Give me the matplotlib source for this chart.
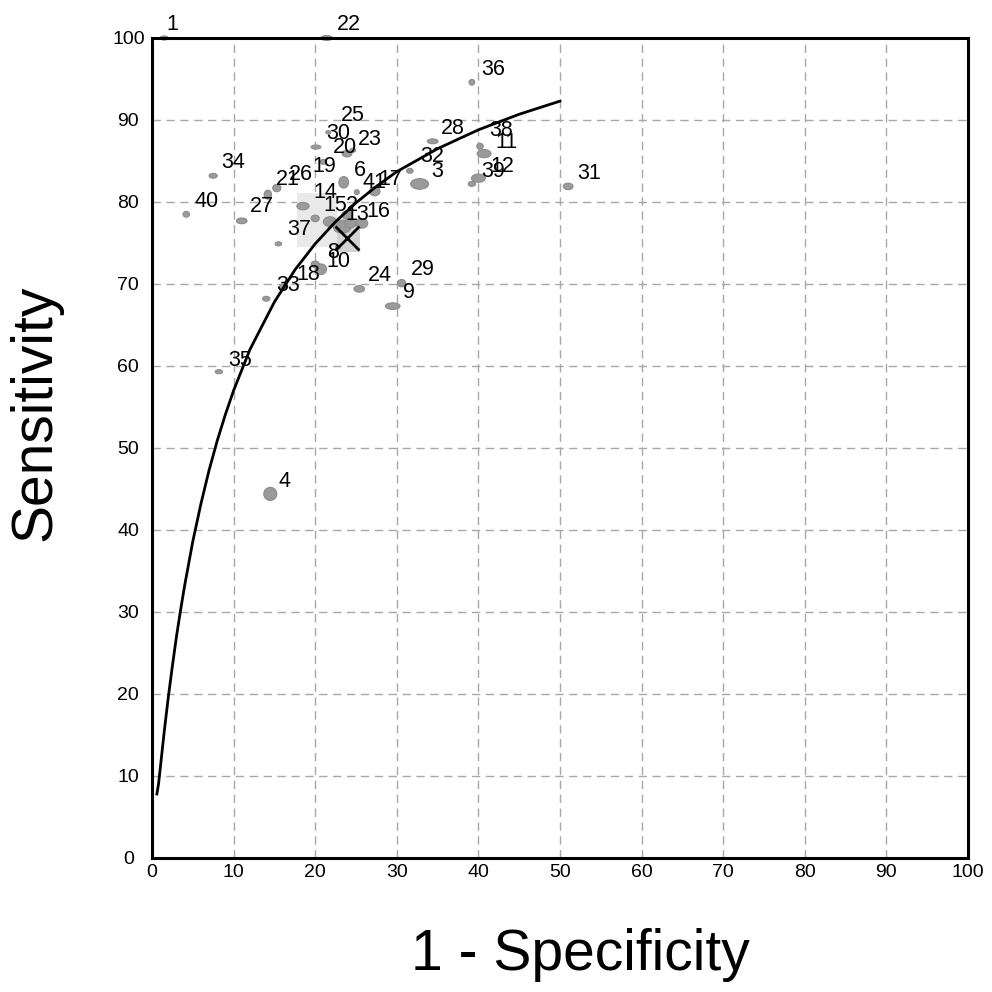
import matplotlib
matplotlib.use("Agg")
import matplotlib.pyplot as plt
from matplotlib.patches import Ellipse, Rectangle

# study points: id, 1-specificity (%), sensitivity (%), ellipse width / height (data units)
study_ids = [1, 22, 36, 28, 38, 11, 32, 3, 12, 39, 31, 25, 30, 23, 20, 6, 41, 17,
             19, 26, 21, 34, 40, 27, 14, 37, 15, 2, 5, 13, 16, 7, 18, 8, 10,
             33, 42, 24, 29, 9, 35, 4]
fpr = [1.5, 21.4, 39.2, 34.4, 40.2, 40.7, 31.6, 32.8, 40.0, 39.2, 51.0, 21.6, 20.1, 24.6, 23.9, 23.5, 27.3, 25.1,
       21.0, 15.3, 14.2, 7.5, 4.2, 11.0, 18.5, 15.5, 21.8, 23.9, 23.3, 24.3, 25.7, 20.0, 20.7, 20.0, 22.8,
       16.0, 14.0, 25.4, 30.6, 29.5, 8.2, 14.5]
sens = [100.0, 100.0, 94.6, 87.4, 86.8, 85.9, 83.8, 82.2, 82.9, 82.2, 81.9, 88.5, 86.7, 86.3, 85.9, 82.4, 81.3, 81.2,
        84.9, 81.7, 80.9, 83.2, 78.5, 77.7, 79.5, 74.9, 77.6, 78.4, 77.0, 77.4, 77.4, 78.0, 71.8, 72.4, 74.5,
        69.6, 68.2, 69.4, 70.1, 67.3, 59.3, 44.4]
ell_w = [1.0, 1.4, 0.7, 1.3, 0.8, 1.7, 0.8, 2.2, 1.7, 0.9, 1.2, 0.6, 1.2, 0.7, 1.2, 1.2, 1.3, 0.6,
         0.8, 1.0, 0.9, 1.0, 0.8, 1.3, 1.5, 0.8, 1.6, 1.3, 2.2, 1.4, 1.5, 1.0, 1.4, 1.0, 0.6,
         0.8, 0.9, 1.3, 1.0, 1.8, 0.9, 1.6]
ell_h = [0.5, 0.6, 0.7, 0.6, 0.7, 1.0, 0.6, 1.3, 1.0, 0.6, 0.8, 0.4, 0.5, 0.5, 0.8, 1.4, 1.1, 0.6,
         0.6, 0.9, 1.1, 0.6, 0.7, 0.7, 0.9, 0.5, 1.2, 1.0, 1.6, 1.1, 1.2, 0.8, 1.3, 0.8, 0.5,
         0.6, 0.6, 0.8, 0.9, 0.8, 0.5, 1.6]

# SROC curve
curve_x = [0.6, 0.8, 1, 1.5, 2, 2.5, 3, 3.5, 4, 5, 6, 7, 8, 9, 10, 12, 15, 17.5, 20,
           22.5, 25, 27.5, 30, 35, 40, 45, 50]
curve_y = [7.8, 9.0, 10.8, 15.4, 19.6, 23.4, 27.0, 30.2, 33.2, 38.6, 43.2, 47.3, 50.9, 54.1, 57.0,
           62.0, 67.8, 71.7, 74.9, 77.6, 79.9, 81.9, 83.7, 86.5, 88.8, 90.7, 92.3]

# summary point and its confidence boxes
summary_fpr, summary_sens = 23.9, 75.6
box_light = (17.8, 74.5, 22.7, 81.1)   # x0, y0, x1, y1
box_dark = (22.7, 73.9, 25.5, 77.6)

ticks = list(range(0, 101, 10))

# where each study number is written (data coords, text centre)
label_xy = {
    1: (2.5, 101.6), 22: (24.1, 101.7), 36: (41.8, 96.2), 28: (36.9, 89.0), 38: (42.8, 88.7),
    11: (43.4, 87.2), 32: (34.3, 85.5), 3: (34.9, 83.7), 12: (42.9, 84.3), 39: (41.8, 83.7),
    31: (53.6, 83.5), 25: (24.6, 90.5), 30: (22.8, 88.4), 23: (26.7, 87.6), 20: (23.7, 86.7),
    6: (25.5, 83.9), 41: (27.3, 82.4), 17: (29.2, 82.7), 19: (21.1, 84.3), 26: (18.3, 83.4),
    21: (16.7, 82.7), 34: (10.0, 84.8), 40: (6.7, 80.1), 27: (13.5, 79.4), 14: (21.2, 81.1),
    37: (18.0, 76.6), 15: (22.4, 79.6), 2: (24.5, 79.6), 13: (25.2, 78.5), 16: (27.7, 78.9),
    8: (22.2, 73.9), 10: (22.8, 72.7), 18: (19.2, 71.2), 33: (16.7, 69.8), 24: (27.9, 71.0),
    29: (33.2, 71.8), 9: (31.5, 69.0), 35: (10.8, 60.7), 4: (16.3, 45.9),
}

plt.rcParams["font.family"] = ["Liberation Sans", "DejaVu Sans"]

fig = plt.figure(figsize=(9.92, 9.92), dpi=100)
ax = fig.add_axes([0.1532, 0.1351, 0.8226, 0.8266])
ax.set_xlim(0, 100)
ax.set_ylim(0, 100)

ax.set_xticks(ticks)
ax.set_yticks(ticks)
ax.tick_params(length=0, labelsize=14)
ax.tick_params(axis="x", pad=4)
ax.tick_params(axis="y", pad=17)
for lab in ax.get_yticklabels():
    lab.set_horizontalalignment("center")
ax.grid(True, color="#a8a8a8", linestyle=(0, (6, 4)), linewidth=1.0)
ax.set_axisbelow(True)
for s in ax.spines.values():
    s.set_linewidth(2.2)

ax.add_patch(Rectangle((box_light[0], box_light[1]), box_light[2] - box_light[0],
                       box_light[3] - box_light[1], facecolor="#e9e9e9", edgecolor="none", zorder=1.5))
ax.add_patch(Rectangle((box_dark[0], box_dark[1]), box_dark[2] - box_dark[0],
                       box_dark[3] - box_dark[1], facecolor="#d2d2d2", edgecolor="none", zorder=1.6))

for i, sid in enumerate(study_ids):
    ax.add_patch(Ellipse((fpr[i], sens[i]), ell_w[i], ell_h[i], facecolor="#9a9a9a",
                         edgecolor="#8c8c8c", linewidth=0.8, zorder=2, clip_on=False))

ax.plot(curve_x, curve_y, color="black", linewidth=2.0, zorder=3)
ax.plot([summary_fpr], [summary_sens], marker="x", markersize=17, markeredgewidth=2.0,
        color="black", linestyle="none", zorder=4)

for sid, (lx, ly) in label_xy.items():
    ax.text(lx, ly, str(sid), ha="center", va="center", fontsize=15.5, clip_on=False, zorder=5)

fig.text(0.585, 0.037, "1 - Specificity", ha="center", va="center", fontsize=41)
fig.text(0.036, 0.584, "Sensitivity", ha="center", va="center", fontsize=41, rotation=90)

fig.savefig("out.png", dpi=100)
